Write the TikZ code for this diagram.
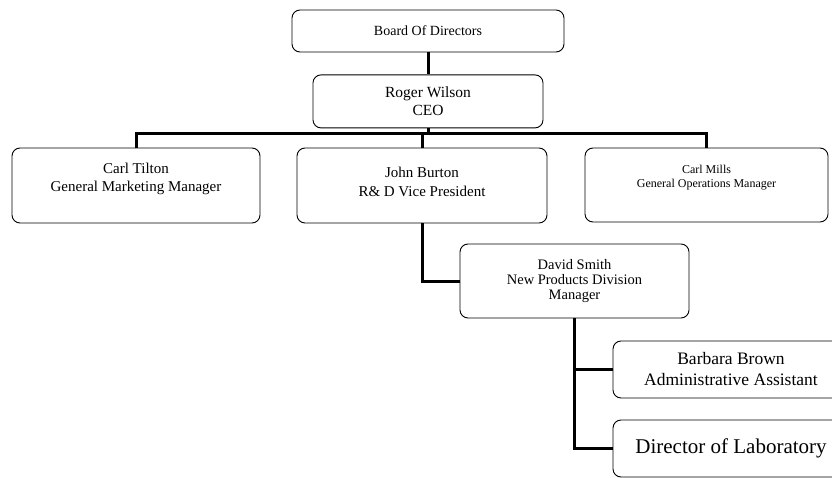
\documentclass[tikz,border=0pt]{standalone}
\usepackage{fontspec}
\setmainfont{Liberation Serif}
\usetikzlibrary{positioning}

\begin{document}
\begin{tikzpicture}[x=1pt,y=-1pt]
\tikzset{box/.style={draw,rounded corners=8pt,align=center,line width=0.9pt,inner sep=0pt},
  link/.style={line width=3pt}}
\useasboundingbox (0,0) rectangle (832,478);
\clip (0,0) rectangle (832,478);
\node[box,minimum width=272pt,minimum height=42pt,font=\fontsize{14}{17}\selectfont] (board) at (428,31) {Board Of Directors};
\node[box,minimum width=230pt,minimum height=53pt,font=\fontsize{15.5}{18}\selectfont,below=22pt of board] (roger) {Roger Wilson\\CEO};
\node[box,minimum width=248pt,minimum height=75pt,text depth=16pt,font=\fontsize{15}{17.5}\selectfont] (tilton) at (136,185.5) {Carl Tilton\\General Marketing Manager};
\node[box,minimum width=250pt,minimum height=75pt,text depth=8pt,font=\fontsize{15}{19}\selectfont] (john) at (422,185.5) {John Burton\\R\& D Vice President};
\node[box,minimum width=243pt,minimum height=74pt,text depth=17pt,font=\fontsize{12}{14.5}\selectfont] (mills) at (706.5,185) {Carl Mills\\General Operations Manager};
\node[box,minimum width=229pt,minimum height=74pt,font=\fontsize{14.5}{15}\selectfont] (david) at (574.5,281) {David Smith\\New Products Division\\Manager};
\node[box,minimum width=236pt,minimum height=57pt,font=\fontsize{17.5}{21}\selectfont] (barbara) at (731,369.5) {Barbara Brown\\Administrative Assistant};
\node[box,minimum width=236pt,minimum height=57pt,font=\fontsize{21}{24}\selectfont] (lab) at (731,448.5) {Director of Laboratory};

\coordinate (bus) at (428,134);
\draw[link] (board) -- (roger);
\draw[link] (roger) -- (bus);
\draw[link] (tilton.north) |- (bus) -| (mills.north);
\draw[link] (john.north) -- (john.north |- bus);
\draw[link] (john.south) |- (david.west);
\draw[link] (david.south) |- (barbara.west);
\draw[link] (david.south) |- (lab.west);
\end{tikzpicture}
\end{document}
